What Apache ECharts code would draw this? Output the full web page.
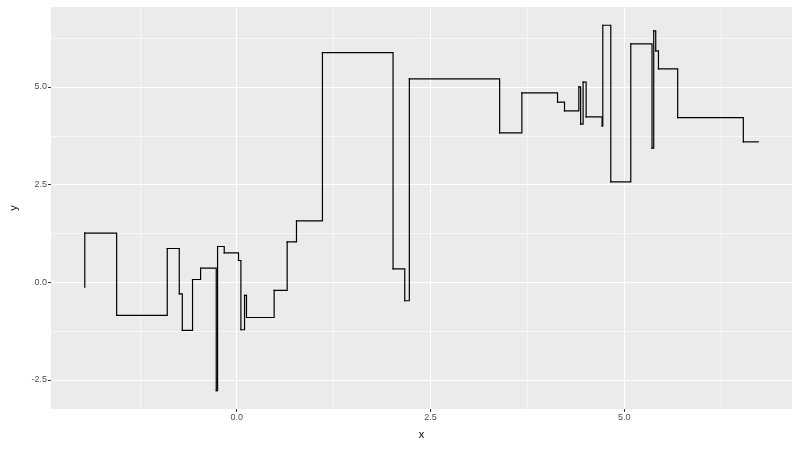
<!DOCTYPE html>
<html>
<head>
<meta charset="utf-8">
<script src="https://cdn.jsdelivr.net/npm/echarts@6/dist/echarts.min.js"></script>
<style>
  html, body { margin: 0; padding: 0; background: #fff; }
  #chart { width: 800px; height: 450px; }
</style>
</head>
<body>
<div id="chart"></div>
<script>
  // step points
  var xs = [-1.961, -1.960, -1.549, -0.896, -0.741, -0.702, -0.570, -0.466, -0.264, -0.247,
    -0.161, 0.023, 0.054, 0.101, 0.126, 0.483, 0.651, 0.771, 1.106, 2.017,
    2.168, 2.227, 3.392, 3.679, 4.139, 4.229, 4.414, 4.437, 4.469, 4.508,
    4.714, 4.723, 4.826, 5.084, 5.358, 5.380, 5.406, 5.441, 5.689, 6.536, 6.729]
  var ys = [-0.125, 1.257, -0.852, 0.863, -0.297, -1.236, 0.069, 0.361, -2.780, 0.914,
    0.753, 0.555, -1.218, -0.340, -0.904, -0.212, 1.034, 1.572, 5.879, 0.343,
    -0.476, 5.206, 3.824, 4.848, 4.610, 4.387, 5.001, 4.047, 5.122, 4.233,
    4.003, 6.580, 2.570, 6.102, 3.432, 6.435, 5.923, 5.462, 4.216, 3.594, 3.594]

  var xTicks = [0, 2.5, 5]
  var xMinor = [-1.25, 1.25, 3.75, 6.25]
  var yTicks = [-2.5, 0, 2.5, 5]
  var yMinor = [-1.25, 1.25, 3.75, 6.25]

  var xRange = [-2.396, 7.164]
  var yRange = [-3.248, 7.048]

  // one item per step: from point i to point i+1 (horizontal, then vertical)
  var steps = []
  for (var i = 0; i < xs.length - 1; i++) {
    steps.push([xs[i], ys[i], xs[i + 1], ys[i + 1]])
  }

  var labelStyle = { color: '#4D4D4D', fontSize: 9, fontFamily: 'Liberation Sans' }
  var nameStyle = { color: '#000', fontSize: 11, fontFamily: 'Liberation Sans' }

  function mainAxis(ticks, range, name, gap) {
    return {
      type: 'value', min: range[0], max: range[1], name: name,
      nameLocation: 'middle', nameGap: gap, nameTextStyle: nameStyle,
      axisLine: { show: false, onZero: false },
      axisTick: { show: true, length: 3, customValues: ticks, lineStyle: { color: '#333', width: 1 } },
      axisLabel: Object.assign({ customValues: ticks, margin: 4,
        formatter: function (v) { return v.toFixed(1) } }, labelStyle),
      splitLine: { show: true, lineStyle: { color: '#fff', width: 1.1 } }
    }
  }
  function minorAxis(ticks, range) {
    return {
      type: 'value', min: range[0], max: range[1],
      axisLine: { show: false, onZero: false },
      axisTick: { show: false, customValues: ticks },
      axisLabel: { show: false, customValues: ticks },
      splitLine: { show: true, lineStyle: { color: '#fff', width: 0.55 } }
    }
  }

  var chart = echarts.init(document.getElementById('chart'), null, { renderer: 'canvas' })
  chart.setOption({
    animation: false,
    grid: { left: 50, right: 8, top: 7, bottom: 41, show: true, backgroundColor: '#EBEBEB', borderWidth: 0 },
    xAxis: [mainAxis(xTicks, xRange, 'x', 20), minorAxis(xMinor, xRange)],
    yAxis: [mainAxis(yTicks, yRange, 'y', 32), minorAxis(yMinor, yRange)],
    series: [{
      type: 'custom',
      data: steps,
      encode: { x: [0, 2], y: [1, 3] },
      z: 5,
      renderItem: function (params, api) {
        var a = api.coord([api.value(0), api.value(1)])
        var c = api.coord([api.value(2), api.value(1)])
        var b = api.coord([api.value(2), api.value(3)])
        return {
          type: 'polyline',
          shape: { points: [a, c, b] },
          style: { fill: null, stroke: '#000', lineWidth: 1.2, lineCap: 'square', lineJoin: 'miter' }
        }
      }
    }]
  })
</script>
</body>
</html>
